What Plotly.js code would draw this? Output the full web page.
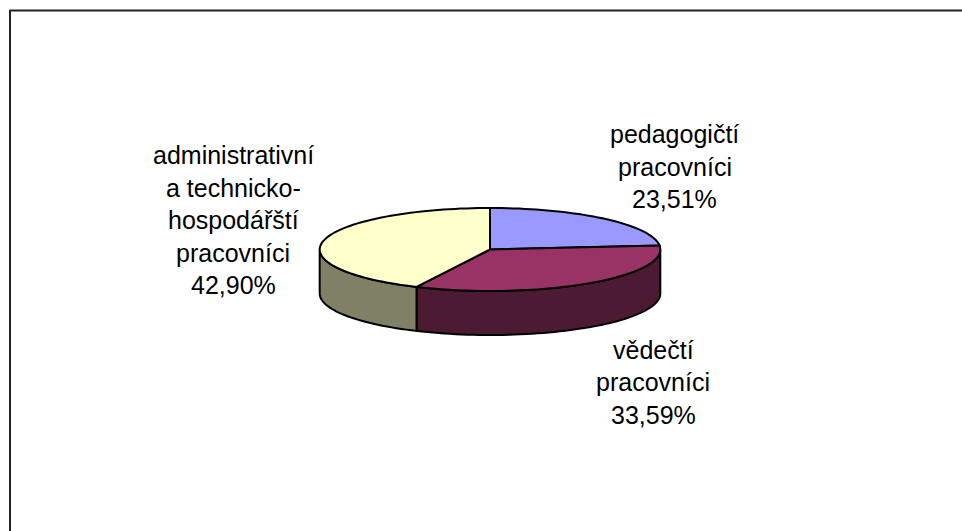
<!DOCTYPE html>
<html>
<head>
<meta charset="utf-8">
<script src="https://cdn.plot.ly/plotly-3.0.1.min.js"></script>
<style>html,body{margin:0;padding:0;background:#fff;overflow:hidden}</style>
</head>
<body>
<div id="chart" style="width:962px;height:531px"></div>
<script>
// Data
var categories = ['pedagogičtí pracovníci', 'vědečtí pracovníci', 'administrativní a technicko-hospodářští pracovníci'];
var values = [23.51, 33.59, 42.90];
var labelLines = [
  ['pedagogičtí', 'pracovníci'],
  ['vědečtí', 'pracovníci'],
  ['administrativní', 'a technicko-', 'hospodářští', 'pracovníci']
];

// Styles
var topColors = ['#9999FF', '#993366', '#FFFFCC'];
var sideColors = ['#4D4D80', '#4D1A33', '#808066'];

// Layout geometry of the pseudo-3D disc
var cx = 490, cy = 249.5, rx = 170.3, ry = 41.5, depth = 44;
var labelCentres = [[674.5, 0], [653, 0], [233, 0]];
var labelTops = [134, 349.5, 155];
var lineStep = 32.5;

function pt(deg, dy) {
  var r = deg * Math.PI / 180;
  return [cx + rx * Math.sin(r), cy - ry * Math.cos(r) + dy];
}
function arc(a, b, dy) {
  var n = Math.max(2, Math.ceil(Math.abs(b - a) / 2)), out = [];
  for (var i = 0; i <= n; i++) out.push(pt(a + (b - a) * i / n, dy));
  return out;
}
function poly(points, color) {
  return {
    type: 'scatter', mode: 'lines', fill: 'toself', fillcolor: color,
    x: points.map(function (p) { return p[0]; }),
    y: points.map(function (p) { return p[1]; }),
    line: { color: '#000', width: 2, simplify: false },
    hoverinfo: 'skip', showlegend: false
  };
}

var total = values.reduce(function (s, v) { return s + v; }, 0);
var sides = [], tops = [], annotations = [], start = 0;
values.forEach(function (v, i) {
  var end = start + v / total * 360;
  var a = Math.max(start, 90), b = Math.min(end, 270);
  if (b > a) {
    sides.push(poly(arc(a, b, 0).concat(arc(b, a, depth)).concat([pt(a, 0)]), sideColors[i]));
  }
  tops.push(poly([[cx, cy]].concat(arc(start, end, 0)).concat([[cx, cy]]), topColors[i]));
  var lines = labelLines[i].concat([v.toFixed(2).replace('.', ',') + '%']);
  lines.forEach(function (t, k) {
    annotations.push({
      x: labelCentres[i][0], y: labelTops[i] + k * lineStep,
      xref: 'x', yref: 'y', text: t, showarrow: false,
      xanchor: 'center', yanchor: 'middle',
      font: { family: 'Liberation Sans, Arial, sans-serif', size: 25, color: '#000' }
    });
  });
  start = end;
});

var layout = {
  width: 962, height: 531,
  margin: { l: 0, r: 0, t: 0, b: 0 },
  paper_bgcolor: '#fff', plot_bgcolor: '#fff',
  showlegend: false,
  xaxis: { range: [0, 962], visible: false, fixedrange: true },
  yaxis: { range: [531, 0], visible: false, fixedrange: true },
  annotations: annotations,
  shapes: [
    { type: 'line', xref: 'x', yref: 'y', x0: 9.5, x1: 962, y0: 10.5, y1: 10.5, line: { color: '#222', width: 2 } },
    { type: 'line', xref: 'x', yref: 'y', x0: 10, x1: 10, y0: 10, y1: 531, line: { color: '#222', width: 2 } }
  ]
};
Plotly.newPlot('chart', sides.concat(tops), layout, { displayModeBar: false, staticPlot: true });
</script>
</body>
</html>
